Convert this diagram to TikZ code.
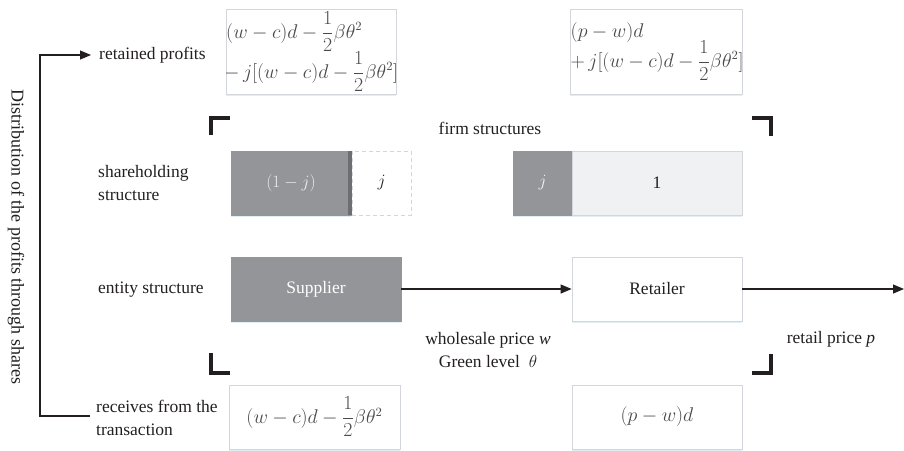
\documentclass[tikz,border=0pt]{standalone}
\usepackage{amsmath}
\usepackage{fontspec}
\setmainfont{Liberation Serif}
\usetikzlibrary{arrows.meta,shadows}
\definecolor{ink}{HTML}{231F20}
\definecolor{mathink}{HTML}{4A4A4A}
\definecolor{shade}{HTML}{939598}
\definecolor{shadeedge}{HTML}{6D6E71}
\definecolor{pale}{HTML}{F0F1F3}
\definecolor{edge}{HTML}{D3D6DA}
\definecolor{glow}{HTML}{BFD9EC}
\begin{document}
\begin{tikzpicture}[x=1pt,y=-1pt,
  every node/.style={font=\fontsize{17.5}{23}\selectfont, text=ink},
  mathfont/.style={font=\fontsize{16}{19}\selectfont, text=mathink, scale=1.15},
  soft/.style={drop shadow={shadow xshift=0pt, shadow yshift=-2pt, fill=glow, opacity=0.45}},
  box/.style={draw=edge, line width=0.8pt, fill=white, inner sep=0pt, minimum height=64pt},
  darkbox/.style={box, draw=shade, fill=shade},
  palebox/.style={box, fill=pale},
  dashbox/.style={box, dashed, dash pattern=on 4pt off 3pt},
  label/.style={anchor=west, align=left, inner sep=0pt},
  mline/.style={mathfont, anchor=base west, inner sep=0pt},
  flow/.style={draw=ink, line width=1.2pt, -{Triangle[length=11pt,width=9pt]}},
  bracket/.style={draw=ink, line width=4pt, line cap=butt, line join=miter}
]
\useasboundingbox (0,0) rectangle (904,450);

% ---- profit boxes at the top ----
\node[box, soft, minimum width=170pt, minimum height=85pt] (topL) at (311,51.5) {};
\begin{scope}
  \clip (226,9) rectangle (396,94);
  \node[mline] (topL1) at (226,38) {$(w-c)d-\dfrac{1}{2}\beta\theta^2$};
  \node[mline] (topL2) at (224,78) {$-\,j[(w-c)d-\dfrac{1}{2}\beta\theta^2]$};
\end{scope}

\node[box, soft, minimum width=172pt, minimum height=85pt] (topR) at (656,51.5) {};
\begin{scope}
  \clip (570,9) rectangle (741.6,94);
  \node[mline] (topR1) at (570.5,37) {$(p-w)d$};
  \node[mline] (topR2) at (570.5,67) {$+\,j[(w-c)d-\dfrac{1}{2}\beta\theta^2]$};
\end{scope}

% ---- firm structure brackets ----
\draw[bracket] (211,135) -- (211,118) -- (230,118);
\draw[bracket] (771,136) -- (771,118) -- (752,118);
\draw[bracket] (211,353) -- (211,373) -- (230,373);
\draw[bracket] (771,354) -- (771,373) -- (752,373);
\node (firm) at (490,128) {firm structures};

% ---- shareholding structure ----
\node[darkbox, soft, minimum width=120pt] (shS) at (291,183) {\textcolor{white!85!shade}{$(1-j)$}};
\draw[shadeedge, line width=4pt] (349.5,151) -- (349.5,215);
\node[dashbox, minimum width=59pt] (shJ) at (381.5,183) {$j$};
\node[darkbox, soft, minimum width=59pt] (rtJ) at (542.5,183) {\textcolor{white!90!shade}{$j$}};
\node[palebox, soft, minimum width=170pt] (rtOne) at (657,183) {1};

% ---- entity structure ----
\node[darkbox, soft, minimum width=170pt] (sup) at (316,289) {\textcolor{white}{Supplier}};
\node[box, soft, minimum width=170pt] (ret) at (657,289) {Retailer};
\coordinate (market) at (904,289);
\draw[flow] (sup.east) -- (ret.west);
\draw[flow] (ret.east) -- (market);

\node[align=center] (wprice) at (488,350.5) {wholesale price \textit{w}\\Green level~~$\theta$};
\node (rprice) at (831,339) {retail price \textit{p}};

% ---- transaction receipts ----
\node[box, soft, minimum width=171pt] (botL) at (314.5,417) {};
\node[mathfont] (botLtext) at (botL.center) {$(w-c)d-\dfrac{1}{2}\beta\theta^2$};
\node[box, soft, minimum width=170pt] (botR) at (657,417) {};
\node[mathfont] (botRtext) at (botR.center) {$(p-w)d$};

% ---- row labels ----
\node[label] (lRet) at (99,55) {retained profits};
\node[label] (lShare) at (98,183) {shareholding\\structure};
\node[label] (lEnt) at (98,290) {entity structure};
\node[label] (lRecv) at (96,418) {receives from the\\transaction};

% ---- distribution bracket ----
\coordinate (recvEnd) at (90,416);
\coordinate (cornerB) at (40,416);
\coordinate (cornerT) at (40,55);
\coordinate (retTip) at (91,55);
\draw[flow] (recvEnd) -- (cornerB) -- (cornerT) -- (retTip);
\node[rotate=-90, font=\fontsize{18}{21}\selectfont] (dist) at (16,237) {Distribution of the profits through shares};
\end{tikzpicture}
\end{document}
